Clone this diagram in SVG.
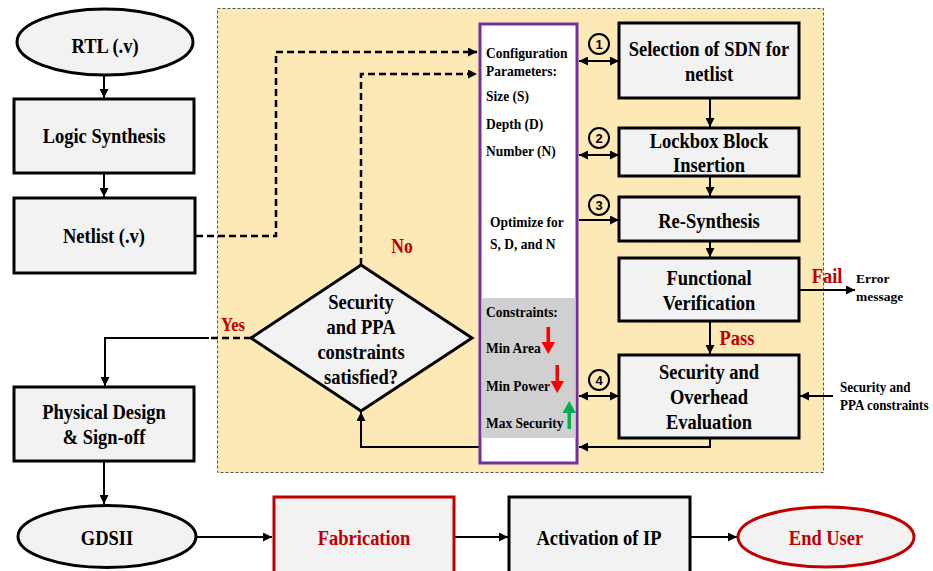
<svg xmlns="http://www.w3.org/2000/svg" width="933" height="571" viewBox="0 0 933 571">
  <defs>
    <marker id="ah" viewBox="0 0 10 10" refX="10" refY="5" markerWidth="9" markerHeight="9" markerUnits="userSpaceOnUse" orient="auto-start-reverse">
      <path d="M0,0 L10,5 L0,10 z" fill="#000"/>
    </marker>
    <style>
      .box{fill:#f2f2f2;stroke:#000;stroke-width:3}
      .redbox{fill:#f2f2f2;stroke:#c00000;stroke-width:3}
      .t{font-family:"Liberation Serif","Times New Roman",serif;font-weight:bold;font-size:21px;text-anchor:middle;fill:#000;transform-box:fill-box;transform-origin:center;transform:scaleX(.88)}
      .s{font-family:"Liberation Serif","Times New Roman",serif;font-weight:bold;font-size:15.5px;text-anchor:start;fill:#000;transform-box:fill-box;transform-origin:left center;transform:scaleX(.87)}
      .e{font-family:"Liberation Serif","Times New Roman",serif;font-weight:bold;font-size:13.5px;text-anchor:start;fill:#000}
      .red{fill:#c00000}
      .num{font-family:"Liberation Sans",Arial,sans-serif;font-weight:bold;font-size:13px;text-anchor:middle;fill:#000}
      .ln{fill:none;stroke:#000;stroke-width:2}
      .dash{fill:none;stroke:#000;stroke-width:2.5;stroke-dasharray:7 4}
      .circ{fill:none;stroke:#000;stroke-width:2}
    </style>
  </defs>

  <!-- obfuscation loop region -->
  <rect x="217.5" y="8.5" width="606" height="464" fill="#fde9b6" stroke="#555" stroke-width="1" stroke-dasharray="3 2"/>

  <!-- connectors -->
  <g id="connectors">
    <line class="ln" x1="104" y1="75" x2="104" y2="98" marker-end="url(#ah)"/>
    <line class="ln" x1="104" y1="173" x2="104" y2="197" marker-end="url(#ah)"/>
    <line class="ln" x1="104" y1="461" x2="104" y2="504" marker-end="url(#ah)"/>
    <line class="ln" x1="196" y1="537" x2="272" y2="537" marker-end="url(#ah)"/>
    <line class="ln" x1="455" y1="537" x2="508" y2="537" marker-end="url(#ah)"/>
    <line class="ln" x1="691" y1="537" x2="737" y2="537" marker-end="url(#ah)"/>
    <!-- netlist into configuration -->
    <polyline class="dash" points="196,236 276,236 276,52 477,52" marker-end="url(#ah)"/>
    <!-- retry path (No) -->
    <polyline class="dash" points="361,265 361,74 477,74" marker-end="url(#ah)"/>
    <!-- Yes path -->
    <line class="dash" x1="251" y1="338" x2="209" y2="338"/>
    <polyline class="ln" points="209,338 105,338 105,386" marker-end="url(#ah)"/>
    <!-- numbered links -->
    <line class="ln" x1="579" y1="61" x2="619" y2="61" marker-start="url(#ah)" marker-end="url(#ah)"/>
    <line class="ln" x1="579" y1="155" x2="619" y2="155" marker-start="url(#ah)" marker-end="url(#ah)"/>
    <line class="ln" x1="579" y1="220" x2="619" y2="220" marker-end="url(#ah)"/>
    <line class="ln" x1="579" y1="396" x2="619" y2="396" marker-start="url(#ah)" marker-end="url(#ah)"/>
    <!-- right flow -->
    <line class="ln" x1="710" y1="98" x2="710" y2="127" marker-end="url(#ah)"/>
    <line class="ln" x1="710" y1="176" x2="710" y2="196" marker-end="url(#ah)"/>
    <line class="ln" x1="710" y1="241" x2="710" y2="257" marker-end="url(#ah)"/>
    <line class="ln" x1="710" y1="321" x2="710" y2="354" marker-end="url(#ah)"/>
    <line class="ln" x1="799" y1="290" x2="855" y2="290" marker-end="url(#ah)"/>
    <line class="ln" x1="833" y1="396" x2="800" y2="396" marker-end="url(#ah)"/>
    <!-- evaluation feedback -->
    <polyline class="ln" points="710,438 710,447 579,447" marker-end="url(#ah)"/>
    <polyline class="ln" points="479,447 361,447 361,412" marker-end="url(#ah)"/>
  </g>

  <!-- left column -->
  <g id="rtl">
    <ellipse cx="105" cy="42" rx="88" ry="33" class="box"/>
    <text class="t" x="105" y="53">RTL (.v)</text>
  </g>
  <g id="logic-synthesis">
    <rect x="14" y="99" width="180" height="74" class="box"/>
    <text class="t" x="104" y="143">Logic Synthesis</text>
  </g>
  <g id="netlist">
    <rect x="14" y="198" width="181" height="75" class="box"/>
    <text class="t" x="104" y="243">Netlist (.v)</text>
  </g>
  <g id="physical-design">
    <rect x="14" y="387" width="180" height="74" class="box"/>
    <text class="t" x="104" y="419">Physical Design</text>
    <text class="t" x="104" y="444">&amp; Sign-off</text>
  </g>

  <!-- bottom row -->
  <g id="gdsii">
    <ellipse cx="107" cy="536.5" rx="89" ry="31" class="box"/>
    <text class="t" x="107" y="545">GDSII</text>
  </g>
  <g id="fabrication">
    <rect x="274" y="497" width="180" height="84" class="redbox"/>
    <text class="t red" x="364" y="545">Fabrication</text>
  </g>
  <g id="activation">
    <rect x="509" y="497" width="181" height="84" class="box"/>
    <text class="t" x="599" y="545">Activation of IP</text>
  </g>
  <g id="end-user">
    <ellipse cx="826" cy="537" rx="88" ry="30" fill="#f2f2f2" stroke="#c00000" stroke-width="3"/>
    <text class="t red" x="826" y="545">End User</text>
  </g>

  <!-- decision -->
  <g id="decision">
    <polygon points="361,265 472,338 361,411 251,338" class="box"/>
    <text class="t" x="361" y="309">Security</text>
    <text class="t" x="361" y="334">and PPA</text>
    <text class="t" x="361" y="359">constraints</text>
    <text class="t" x="361" y="384">satisfied?</text>
  </g>
  <g id="labels">
    <text class="t red" x="402" y="253" style="font-size:20px">No</text>
    <text class="t red" x="233" y="331" style="font-size:19px">Yes</text>
    <text class="t red" x="737" y="345">Pass</text>
    <text class="t red" x="827" y="283">Fail</text>
    <text class="e" x="856" y="283">Error</text>
    <text class="e" x="856" y="301">message</text>
    <text class="s" x="840" y="392" style="font-size:15px">Security and</text>
    <text class="s" x="840" y="410" style="font-size:15px">PPA constraints</text>
  </g>

  <!-- configuration panel -->
  <g id="config-panel">
    <rect x="480" y="24" width="97" height="439" fill="#fff" stroke="#7030a0" stroke-width="3"/>
    <rect x="481.5" y="298" width="94" height="140" fill="#d0d0d0"/>
    <text class="s" x="486" y="58">Configuration</text>
    <text class="s" x="486" y="76">Parameters:</text>
    <text class="s" x="486" y="101">Size (S)</text>
    <text class="s" x="486" y="129">Depth (D)</text>
    <text class="s" x="486" y="156">Number (N)</text>
    <text class="s" x="490" y="227">Optimize for</text>
    <text class="s" x="490" y="249">S, D, and N</text>
    <text class="s" x="486" y="317">Constraints:</text>
    <text class="s" x="486" y="353">Min Area</text>
    <text class="s" x="486" y="391">Min Power</text>
    <text class="s" x="486" y="428">Max Security</text>
    <path d="M546.5,327 h3.5 v15 h5 l-6.75,12 l-6.75,-12 h5 z" fill="#ff0000"/>
    <path d="M555.5,365 h3.5 v16 h5 l-6.75,12 l-6.75,-12 h5 z" fill="#ff0000"/>
    <path d="M567.5,429 h3.5 v-16 h5 l-6.75,-12 l-6.75,12 h5 z" fill="#00b050"/>
  </g>

  <!-- step markers -->
  <g id="step-1"><circle cx="599" cy="44" r="10" class="circ"/><text class="num" x="599" y="48.5">1</text></g>
  <g id="step-2"><circle cx="599" cy="138" r="10" class="circ"/><text class="num" x="599" y="142.5">2</text></g>
  <g id="step-3"><circle cx="599" cy="205" r="10" class="circ"/><text class="num" x="599" y="209.5">3</text></g>
  <g id="step-4"><circle cx="599" cy="380" r="10" class="circ"/><text class="num" x="599" y="384.5">4</text></g>

  <!-- right column -->
  <g id="sdn-selection">
    <rect x="619" y="23" width="180" height="75" class="box"/>
    <text class="t" x="709" y="56">Selection of SDN for</text>
    <text class="t" x="709" y="81">netlist</text>
  </g>
  <g id="lockbox-insertion">
    <rect x="619" y="128" width="180" height="48" class="box"/>
    <text class="t" x="709" y="148">Lockbox Block</text>
    <text class="t" x="709" y="172">Insertion</text>
  </g>
  <g id="re-synthesis">
    <rect x="619" y="197" width="180" height="44" class="box"/>
    <text class="t" x="709" y="228">Re-Synthesis</text>
  </g>
  <g id="functional-verification">
    <rect x="619" y="258" width="180" height="63" class="box"/>
    <text class="t" x="709" y="285">Functional</text>
    <text class="t" x="709" y="310">Verification</text>
  </g>
  <g id="evaluation">
    <rect x="619" y="355" width="180" height="83" class="box"/>
    <text class="t" x="709" y="379">Security and</text>
    <text class="t" x="709" y="404">Overhead</text>
    <text class="t" x="709" y="429">Evaluation</text>
  </g>
</svg>
